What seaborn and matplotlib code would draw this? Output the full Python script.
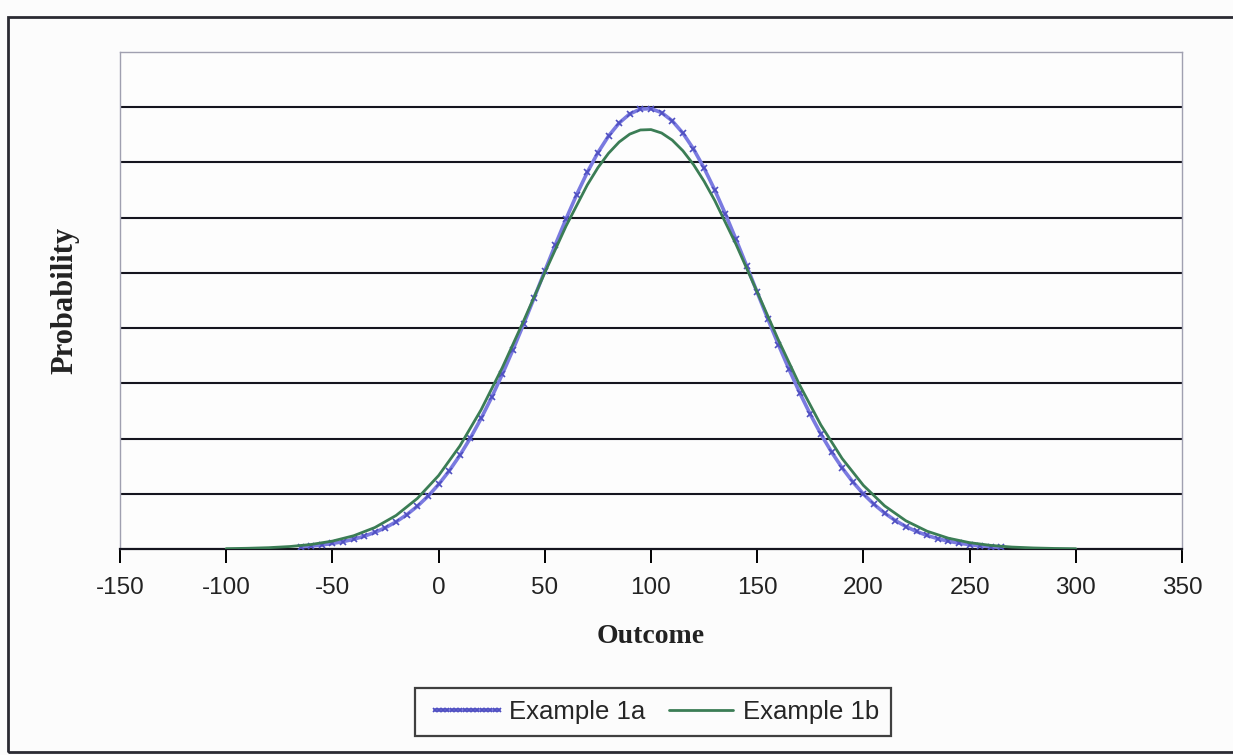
import numpy as np
import pandas as pd
import matplotlib
matplotlib.use("Agg")
import matplotlib.pyplot as plt
from matplotlib.patches import Rectangle
import seaborn as sns

# ---- data (probability density) ----
x_1a = [-65, -60, -55, -50, -45, -40, -35, -30, -25, -20, -15, -10, -5, 0, 5, 10, 15, 20, 25,
        30, 35, 40, 45, 50, 55, 60, 65, 70, 75, 80, 85, 90, 95, 100, 105, 110, 115, 120, 125,
        130, 135, 140, 145, 150, 155, 160, 165, 170, 175, 180, 185, 190, 195, 200, 205, 210,
        215, 220, 225, 230, 235, 240, 245, 250, 255, 260, 265]
y_1a = [0.039, 0.054, 0.074, 0.100, 0.134, 0.177, 0.232, 0.301, 0.387, 0.492, 0.621, 0.774,
        0.956, 1.169, 1.415, 1.696, 2.012, 2.364, 2.748, 3.165, 3.608, 4.071, 4.549, 5.034,
        5.514, 5.977, 6.417, 6.821, 7.178, 7.478, 7.714, 7.879, 7.966, 7.974, 7.902, 7.753,
        7.532, 7.244, 6.897, 6.502, 6.069, 5.608, 5.130, 4.647, 4.166, 3.699, 3.252, 2.830,
        2.438, 2.080, 1.756, 1.468, 1.215, 0.996, 0.808, 0.650, 0.516, 0.407, 0.317, 0.245,
        0.187, 0.141, 0.106, 0.079, 0.058, 0.042, 0.030]  # x 1e-3

x_1b = [-100, -90, -80, -70, -60, -50, -40, -30, -20, -10, 0, 10, 20, 30, 40, 50, 60, 70, 75,
        80, 85, 90, 95, 100, 105, 110, 115, 120, 125, 130, 140, 150, 160, 170, 180, 190, 200,
        210, 220, 230, 240, 250, 260, 270, 280, 290, 300]
y_1b = [0.006, 0.013, 0.024, 0.045, 0.082, 0.143, 0.240, 0.389, 0.608, 0.916, 1.330, 1.865,
        2.520, 3.285, 4.128, 5.004, 5.848, 6.592, 6.905, 7.166, 7.370, 7.513, 7.588, 7.595,
        7.533, 7.404, 7.212, 6.962, 6.659, 6.312, 5.519, 4.654, 3.784, 2.968, 2.244, 1.638,
        1.152, 0.781, 0.511, 0.322, 0.196, 0.115, 0.065, 0.035, 0.019, 0.010, 0.005]  # x 1e-3

x_ticks = [-150, -100, -50, 0, 50, 100, 150, 200, 250, 300, 350]
grid_levels = [0.001, 0.002, 0.003, 0.004, 0.005, 0.006, 0.007, 0.008]

df_a = pd.DataFrame({"Outcome": x_1a, "Probability": np.array(y_1a) / 1000.0})
df_b = pd.DataFrame({"Outcome": x_1b, "Probability": np.array(y_1b) / 1000.0})

sns.set_style("white")
plt.rcParams["font.family"] = ["Liberation Sans", "DejaVu Sans"]

W, H = 1233, 755
fig = plt.figure(figsize=(W / 100, H / 100), dpi=100)
fig.patch.set_facecolor("#fcfcfc")

# outer chart border
fig.patches.append(Rectangle((8 / W, 3 / H), 1.5, (H - 20) / H, transform=fig.transFigure,
                             fill=False, edgecolor="#2b2b33", linewidth=2.0, zorder=0))

ax = fig.add_axes([120 / W, (H - 549) / H, (1182 - 120) / W, (549 - 52) / H])
ax.set_facecolor("#fdfdfd")

blue = "#7a7ae0"
green = "#3b7d55"

sns.lineplot(data=df_a, x="Outcome", y="Probability", ax=ax, color=blue, linewidth=2.6,
             marker="x", markersize=4.5, markeredgewidth=1.2, markeredgecolor="#4f4fc0",
             label="Example 1a", zorder=3)
sns.lineplot(data=df_b, x="Outcome", y="Probability", ax=ax, color=green, linewidth=2.0,
             label="Example 1b", zorder=4)

ax.set_xlim(-150, 350)
ax.set_ylim(0, 0.009)
ax.set_xticks(x_ticks)
ax.set_xticklabels([str(t) for t in x_ticks],
                   fontdict={"family": ["Liberation Sans Narrow", "Liberation Sans"], "size": 17.5})
ax.set_yticks(grid_levels)
ax.set_yticklabels([])
ax.tick_params(axis="y", length=0)
ax.tick_params(axis="x", direction="out", length=10, width=1.4, color="black",
               labelcolor="#222222", pad=10, bottom=True)
ax.yaxis.grid(True, color="#15151f", linewidth=1.5)
ax.xaxis.grid(False)

for side in ["left", "top", "right"]:
    ax.spines[side].set_color("#a0a0b0")
    ax.spines[side].set_linewidth(1.0)
ax.spines["bottom"].set_color("#15151f")
ax.spines["bottom"].set_linewidth(1.6)

ax.set_xlabel("Outcome", fontsize=20, fontweight="bold", family="Liberation Serif",
              color="#222222", labelpad=18)
ax.set_ylabel("Probability", fontsize=22, fontweight="bold", family="Liberation Serif",
              color="#222222", labelpad=26)

leg = ax.legend(loc="center", bbox_to_anchor=(0.502, -0.328), ncol=2, frameon=True,
                fancybox=False, fontsize=18.5, handlelength=3.1, handletextpad=0.1,
                columnspacing=0.6, borderpad=0.45, numpoints=16, borderaxespad=0)
leg.get_frame().set_edgecolor("#111111")
leg.get_frame().set_linewidth(1.6)
leg.get_frame().set_facecolor("#fdfdfd")
for h in leg.legend_handles:
    h.set_markersize(3)

fig.savefig("out.png", dpi=100, facecolor=fig.get_facecolor())
